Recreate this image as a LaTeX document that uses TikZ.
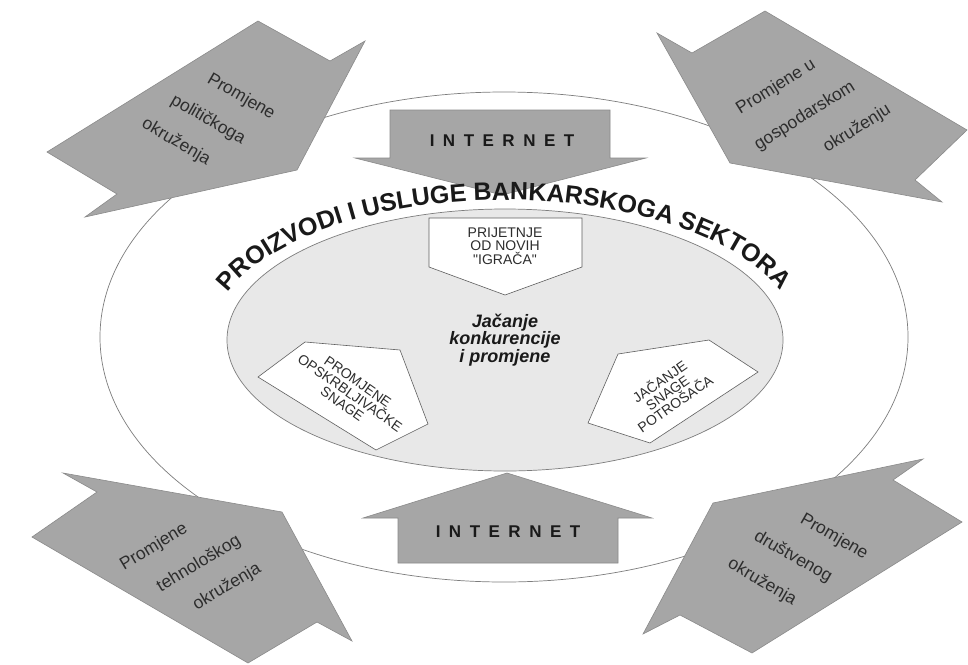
\documentclass[tikz,border=0pt]{standalone}
\usepackage{fontspec}
\setmainfont{Liberation Sans}
\usetikzlibrary{decorations.text}
\definecolor{arrowfill}{RGB}{166,166,166}
\definecolor{arrowline}{RGB}{138,138,138}
\definecolor{innerfill}{RGB}{232,232,232}
\definecolor{ringline}{RGB}{125,125,125}
\definecolor{txtdark}{RGB}{45,45,45}
\definecolor{titledark}{RGB}{25,25,25}
\definecolor{boxline}{RGB}{95,95,95}
\begin{document}
\begin{tikzpicture}[x=1pt,y=1pt,
  bigarrow/.style={fill=arrowfill, draw=arrowline, line width=0.6pt, line join=miter},
  cornertext/.style={font=\fontsize{17.5}{18}\selectfont, text=txtdark, inner sep=0pt},
  nettext/.style={font=\fontsize{17}{17}\selectfont\bfseries\addfontfeature{LetterSpace=50}, text=titledark, inner sep=0pt},
  penta/.style={fill=white, draw=boxline, line width=0.6pt, line join=miter},
  pentatext/.style={font=\fontsize{14}{13.5}\selectfont, text=txtdark, align=center, inner sep=0pt},
  centertext/.style={font=\fontsize{18}{17.5}\selectfont\bfseries\itshape, text=titledark, align=center, inner sep=0pt},
]
\useasboundingbox[fill=white] (0,0) rectangle (968,-664);

% outer ring
\draw[ringline, line width=0.7pt] (504,-337) ellipse [x radius=404, y radius=245];

% corner arrows
\draw[bigarrow] (47,-152) -- (117,-194) -- (85,-217) -- (297,-170) -- (365,-41) -- (330,-61) -- (258,-21) -- cycle;
\draw[bigarrow] (657,-33) -- (692,-53) -- (765,-11) -- (967,-130) -- (915,-180) -- (942,-202) -- (730,-163) -- cycle;
\draw[bigarrow] (63,-473) -- (97,-492) -- (32,-537) -- (248,-663) -- (317,-622) -- (352,-641) -- (282,-512) -- cycle;
\draw[bigarrow] (643,-634) -- (680,-615) -- (752,-653) -- (962,-522) -- (893,-480) -- (923,-459) -- (713,-503) -- cycle;

% internet arrows
\draw[bigarrow] (390,-110) -- (610,-110) -- (610,-158) -- (646,-158) -- (502,-195) -- (355,-158) -- (390,-158) -- cycle;
\draw[bigarrow] (398,-563) -- (618,-563) -- (618,-518) -- (652,-518) -- (507,-473) -- (363,-518) -- (398,-518) -- cycle;

% inner ellipse
\draw[fill=innerfill, draw=ringline, line width=0.7pt] (505,-340) ellipse [x radius=278, y radius=131];

% pentagons
\draw[penta] (429,-218) -- (582,-218) -- (582,-267) -- (505,-295) -- (429,-267) -- cycle;
\draw[penta] (258,-377) -- (305,-342) -- (400,-350) -- (428,-424) -- (376,-450) -- cycle;
\draw[penta] (588,-423) -- (618,-354) -- (709,-340) -- (758,-372) -- (650,-443) -- cycle;

% arc title
\path[decorate, decoration={text along path, text align=center, text color=titledark,
  text={|\fontsize{25}{25}\selectfont\bfseries|PROIZVODI I USLUGE BANKARSKOGA SEKTORA}}]
  (505,-341) ++(163:295 and 141) arc [start angle=163, end angle=18, x radius=295, y radius=141];

% texts
\node[nettext] (net1) at (502,-141) {INTERNET};
\node[nettext] (net2) at (508,-532) {INTERNET};

\node[pentatext] (p1) at (505,-246) {PRIJETNJE\\OD NOVIH\\{\addfontfeature{Ligatures=TeXOff}"IGRAČA"}};
\node[pentatext, rotate=-35] (p2) at (350,-393) {PROMJENE\\OPSKRBLJIVAČKE\\SNAGE};
\node[pentatext, rotate=35] (p3) at (667,-392) {JAČANJE\\SNAGE\\POTROŠAČA};

\node[centertext] (c) at (505,-340) {Jačanje\\konkurencije\\i promjene};

\node[cornertext, rotate=-30] (tl1) at (241,-97) {Promjene};
\node[cornertext, rotate=-30] (tl2) at (208,-120) {političkoga};
\node[cornertext, rotate=-30] (tl3) at (176,-142) {okruženja};

\node[cornertext, rotate=32] (tr1) at (776,-87) {Promjene u};
\node[cornertext, rotate=32] (tr2) at (805,-116) {gospodarskom};
\node[cornertext, rotate=32] (tr3) at (857,-129) {okruženju};

\node[cornertext, rotate=31] (bl1) at (154,-547) {Promjene};
\node[cornertext, rotate=31] (bl2) at (199,-564) {tehnološkog};
\node[cornertext, rotate=31] (bl3) at (227,-587) {okruženja};

\node[cornertext, rotate=-30] (br1) at (834,-537) {Promjene};
\node[cornertext, rotate=-30] (br2) at (793,-557) {društvenog};
\node[cornertext, rotate=-30] (br3) at (762,-582) {okruženja};
\end{tikzpicture}
\end{document}
